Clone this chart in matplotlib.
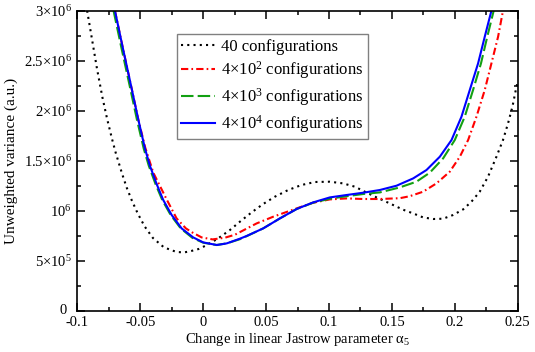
import numpy as np
import matplotlib
matplotlib.use("Agg")
import matplotlib.pyplot as plt
from matplotlib.ticker import MultipleLocator
from matplotlib.transforms import ScaledTranslation

plt.rcParams['font.family'] = ['Liberation Serif', 'DejaVu Serif']
plt.rcParams['mathtext.fontset'] = 'custom'
plt.rcParams['mathtext.rm'] = 'Liberation Serif'
plt.rcParams['mathtext.it'] = 'Liberation Serif:italic'

# curves (x = change in alpha_5, y in units of 1e6)
x_40 = [-0.0922, -0.0883, -0.0844, -0.0801, -0.0764, -0.0724, -0.0695, -0.0645,
        -0.0608, -0.0566, -0.052, -0.0465, -0.0399, -0.0311, -0.0211, -0.015,
        -0.0095, -0.0036, 0.0014, 0.0112, 0.0213, 0.0292, 0.0385, 0.0477, 0.057,
        0.0676, 0.0782, 0.0888, 0.1007, 0.1113, 0.1206, 0.1285, 0.1378, 0.1483,
        0.1589, 0.1669, 0.1748, 0.1828, 0.1907, 0.1986, 0.2066, 0.2132, 0.2198,
        0.2264, 0.2331, 0.2383, 0.2423, 0.2458, 0.249, 0.25]
y_40 = [3.00, 2.713, 2.423, 2.137, 1.923, 1.717, 1.58, 1.373,
        1.233, 1.10, 0.973, 0.843, 0.727, 0.633, 0.587, 0.583,
        0.597, 0.617, 0.647, 0.717, 0.807, 0.89, 0.983, 1.067, 1.14,
        1.207, 1.257, 1.287, 1.29, 1.273, 1.24, 1.19, 1.133, 1.073,
        1.01, 0.973, 0.933, 0.917, 0.92, 0.957, 1.013, 1.09, 1.19,
        1.34, 1.54, 1.707, 1.873, 2.04, 2.24, 2.29]

x_4e2 = [-0.0701, -0.0637, -0.0573, -0.0515, -0.046, -0.0396, -0.029, -0.0211,
         -0.0137, -0.0087, -0.0012, 0.0075, 0.0173, 0.0253, 0.0425, 0.0557, 0.0743,
         0.0874, 0.1007, 0.114, 0.1272, 0.1404, 0.1563, 0.1642, 0.1748, 0.1854,
         0.196, 0.204, 0.2106, 0.2172, 0.2238, 0.2291, 0.2344, 0.2383]
y_4e2 = [3.00, 2.62, 2.25, 1.91, 1.63, 1.38, 1.113, 0.923,
         0.823, 0.783, 0.733, 0.713, 0.73, 0.76, 0.873, 0.94, 1.023,
         1.08, 1.113, 1.123, 1.117, 1.117, 1.125, 1.145, 1.19, 1.273,
         1.39, 1.54, 1.707, 1.94, 2.207, 2.473, 2.74, 3.00]

x_4e3 = [-0.0712, -0.0648, -0.0584, -0.0526, -0.0472, -0.0432, -0.0378, -0.0325,
         -0.0258, -0.0178, -0.0085, 0.0001, 0.0108, 0.0187, 0.0292, 0.0345, 0.0477,
         0.061, 0.0743, 0.0874, 0.1007, 0.114, 0.1272, 0.1404, 0.1563, 0.1695,
         0.1801, 0.1907, 0.2, 0.2079, 0.2145, 0.2208, 0.2258, 0.2309]
y_4e3 = [3.00, 2.62, 2.25, 1.91, 1.62, 1.45, 1.265, 1.107,
         0.957, 0.823, 0.728, 0.68, 0.657, 0.673, 0.715, 0.745, 0.823,
         0.923, 1.017, 1.08, 1.12, 1.145, 1.167, 1.183, 1.233, 1.29,
         1.38, 1.523, 1.707, 1.94, 2.207, 2.473, 2.74, 3.00]

x_4e4 = [-0.0701, -0.0637, -0.0573, -0.0515, -0.0462, -0.0423, -0.0369, -0.0317,
         -0.025, -0.0171, -0.0079, 0.0001, 0.0108, 0.0187, 0.0292, 0.0345, 0.0477,
         0.061, 0.0743, 0.0874, 0.1007, 0.114, 0.1272, 0.1404, 0.1537, 0.1669,
         0.1775, 0.1881, 0.1974, 0.2053, 0.2119, 0.2185, 0.2238, 0.2291]
y_4e4 = [3.00, 2.62, 2.25, 1.91, 1.62, 1.45, 1.265, 1.107,
         0.957, 0.823, 0.733, 0.683, 0.657, 0.673, 0.72, 0.747, 0.823,
         0.923, 1.017, 1.083, 1.133, 1.157, 1.18, 1.207, 1.25, 1.323,
         1.407, 1.54, 1.707, 1.94, 2.207, 2.473, 2.74, 3.00]

labels = ['40 configurations', '4×10$^2$ configurations',
          '4×10$^3$ configurations', '4×10$^4$ configurations']

xticks = [-0.1, -0.05, 0, 0.05, 0.1, 0.15, 0.2, 0.25]
xticklabels = ['-0.1', '-0.05', '0', '0.05', '0.1', '0.15', '0.2', '0.25']
yticks = [0, 5e5, 1e6, 1.5e6, 2e6, 2.5e6, 3e6]
yticklabels = ['0', '5×10$^5$', '10$^6$', '1.5×10$^6$', '2×10$^6$',
               '2.5×10$^6$', '3×10$^6$']

fig = plt.figure(figsize=(5.35, 3.52), dpi=100)
ax = fig.add_axes([0.1445, 0.1173, 0.8232, 0.8523])

sc = 1e6
ax.plot(x_40, np.array(y_40) * sc, color='black', lw=1.5, dashes=(1, 2), label=labels[0])
ax.plot(x_4e2, np.array(y_4e2) * sc, color='#ff0000', lw=1.5,
        dashes=(3.5, 1.5, 0.8, 1.5), label=labels[1])
ax.plot(x_4e3, np.array(y_4e3) * sc, color='#12a012', lw=1.5, dashes=(6, 2), label=labels[2])
ax.plot(x_4e4, np.array(y_4e4) * sc, color='#0000ff', lw=1.5, label=labels[3])

ax.set_xlim(-0.1, 0.25)
ax.set_ylim(0, 3e6)
ax.set_xticks(xticks)
ax.set_xticklabels(xticklabels)
ax.set_yticks(yticks)
ax.set_yticklabels(yticklabels)
ax.xaxis.set_minor_locator(MultipleLocator(0.025))
ax.yaxis.set_minor_locator(MultipleLocator(2.5e5))
ax.tick_params(which='both', direction='in', top=True, right=True, labelsize=10.5)
ax.tick_params(which='major', length=6, width=1.1)
ax.tick_params(which='minor', length=3, width=1.1)
ax.tick_params(axis='x', pad=3.5)
ax.tick_params(axis='y', pad=4)
for s in ax.spines.values():
    s.set_linewidth(1.2)

# nudge the y "0" so it sits beside the x "-0.1" like the original
zero = ax.yaxis.get_major_ticks()[0].label1
zero.set_transform(zero.get_transform() + ScaledTranslation(-0.05, 0.02, fig.dpi_scale_trans))

ax.set_xlabel('Change in linear Jastrow parameter α$_5$', fontsize=10.5, labelpad=2)
ax.set_ylabel('Unweighted variance (a.u.)', fontsize=11, labelpad=4)

leg = ax.legend(loc='upper left', bbox_to_anchor=(0.227, 0.921), borderaxespad=0,
                fontsize=12, handlelength=2.0, handletextpad=0.4, fancybox=False,
                framealpha=1, edgecolor='#808080', labelspacing=0.3,
                borderpad=0.25)
leg.get_frame().set_linewidth(1.0)

fig.savefig('out.png', dpi=100)
